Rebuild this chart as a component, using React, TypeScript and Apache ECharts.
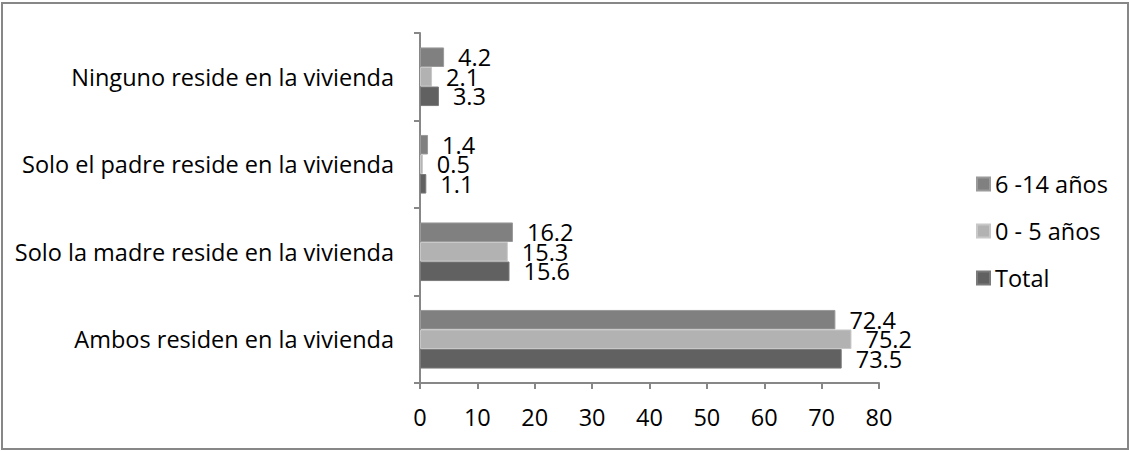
import React, { useEffect, useRef } from "react";
import * as echarts from "echarts";

// Categories listed from the bottom of the axis upward
const categories = [
  "Ambos residen en la vivienda",
  "Solo la madre reside en la vivienda",
  "Solo el padre reside en la vivienda",
  "Ninguno reside en la vivienda",
];

const total = [73.5, 15.6, 1.1, 3.3];
const age0to5 = [75.2, 15.3, 0.5, 2.1];
const age6to14 = [72.4, 16.2, 1.4, 4.2];

const xTicks = [0, 10, 20, 30, 40, 50, 60, 70, 80];

const FONT = "'Open Sans', sans-serif";
const FONT_SIZE = 23.5;
const AXIS_GRAY = "#878787";

export default function App() {
  const ref = useRef<HTMLDivElement>(null);

  useEffect(() => {
    if (!ref.current) return;
    const chart = echarts.init(ref.current, null, { renderer: "svg" });

    const label = {
      show: true,
      position: "right" as const,
      distance: 14,
      color: "#000",
      fontFamily: FONT,
      fontSize: FONT_SIZE,
      formatter: (p: any) => Number(p.value).toFixed(1),
    };

    const bar = (name: string, data: number[], color: string, border: string) => ({
      name,
      type: "bar" as const,
      data,
      barGap: "0%",
      barCategoryGap: "33%",
      itemStyle: { color, borderColor: border, borderWidth: 1 },
      label,
    });

    chart.setOption({
      animation: false,
      textStyle: { fontFamily: FONT },
      graphic: [
        {
          type: "rect",
          shape: { x: 2, y: 3, width: 1126, height: 446 },
          style: { fill: "none", stroke: AXIS_GRAY, lineWidth: 2 },
          silent: true,
        },
      ],
      grid: { left: 420, right: 251, top: 33, bottom: 68, containLabel: false },
      legend: {
        orient: "vertical",
        left: 971,
        top: 164,
        itemWidth: 13,
        itemHeight: 13,
        itemGap: 17,
        icon: "rect",
        data: ["6 -14 años", "0 - 5 años", "Total"],
        textStyle: { fontFamily: FONT, fontSize: FONT_SIZE, color: "#000", lineHeight: 30 },
      },
      xAxis: {
        type: "value",
        min: xTicks[0],
        max: xTicks[xTicks.length - 1],
        interval: 10,
        splitLine: { show: false },
        axisLine: { show: true, lineStyle: { color: AXIS_GRAY, width: 2 } },
        axisTick: { show: true, length: 6, lineStyle: { color: AXIS_GRAY, width: 2 } },
        axisLabel: { color: "#000", fontFamily: FONT, fontSize: FONT_SIZE, margin: 22 },
      },
      yAxis: {
        type: "category",
        data: categories,
        axisLine: { show: true, lineStyle: { color: AXIS_GRAY, width: 2 } },
        axisTick: { show: true, length: 6, lineStyle: { color: AXIS_GRAY, width: 2 } },
        axisLabel: { color: "#000", fontFamily: FONT, fontSize: FONT_SIZE, margin: 26 },
      },
      // Within each category the first series sits on top
      series: [
        bar("6 -14 años", age6to14, "#808080", "#9a9a9a"),
        bar("0 - 5 años", age0to5, "#b2b2b2", "#c8c8c8"),
        bar("Total", total, "#616161", "#7a7a7a"),
      ],
    });

    return () => chart.dispose();
  }, []);

  return (
    <div
      ref={ref}
      style={{ position: "absolute", left: 0, top: 0, width: 1130, height: 451, background: "#fff" }}
    />
  );
}
